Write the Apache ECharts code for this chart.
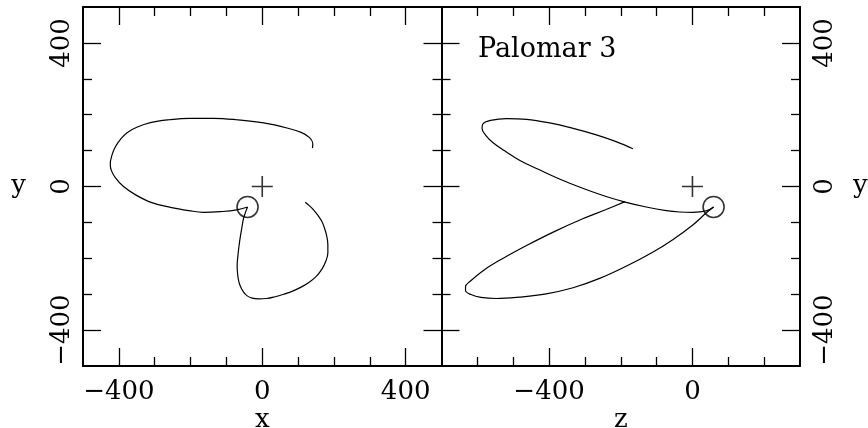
<!DOCTYPE html>
<html>
<head>
<meta charset="utf-8">
<script src="https://cdn.jsdelivr.net/npm/echarts@6/dist/echarts.min.js"></script>
<style>
  html, body { margin: 0; padding: 0; background: #fff; }
  #chart { width: 868px; height: 428px; }
</style>
</head>
<body>
<div id="chart"></div>
<script>
// Orbit of Palomar 3, integrated backward and forward from its present position
const xyBackward = [[-41,-57],[-71,-65],[-117,-70],[-164,-72],[-205,-67],[-256,-58],[-308,-45],[-352,-24],[-387,0],[-410,25],[-421,45],[-424,62],[-419,88],[-410,110],[-395,132],[-377,150],[-350,165],[-312,178],[-260,186],[-201,190],[-136,190],[-71,186],[4,177],[69,163],[110,150],[132,136],[141,120],[140,107]];
const xyForward = [[-41,-57],[-46,-70],[-52,-88],[-57,-115],[-61,-139],[-65,-167],[-68,-194],[-70,-220],[-69,-241],[-66,-262],[-61,-278],[-53,-293],[-43,-304],[-28,-311],[-10,-313],[12,-312],[36,-307],[60,-300],[83,-292],[107,-281],[129,-268],[150,-251],[166,-231],[177,-209],[183,-185],[183,-162],[180,-139],[174,-117],[166,-97],[155,-80],[143,-65],[132,-54],[120,-44]];
const zyBackward = [[59,-57],[38,-68],[1,-72],[-36,-71],[-73,-67],[-129,-57],[-185,-44],[-241,-28],[-306,-5],[-371,21],[-430,48],[-480,72],[-525,100],[-556,122],[-576,142],[-587,162],[-584,175],[-563,184],[-519,189],[-463,187],[-398,177],[-333,162],[-268,144],[-213,125],[-166,105]];
const zyForward = [[59,-57],[38,-74],[1,-107],[-55,-148],[-111,-183],[-185,-222],[-259,-256],[-333,-282],[-408,-299],[-482,-308],[-547,-312],[-590,-309],[-618,-301],[-633,-290],[-633,-279],[-620,-264],[-582,-233],[-530,-201],[-460,-163],[-384,-125],[-306,-90],[-241,-64],[-188,-42]];

// Present position of the cluster and the Galactic centre marker
const clusterXY = [-41, -57];
const clusterZY = [59, -57];
const galacticCentre = [0, 0];

// Axis ranges and tick values
const xRange = [-500, 500];
const zRange = [-700, 300];
const yRange = [-500, 500];
const xMajor = [-400, 0, 400];
const xMinor = [-300, -200, -100, 100, 200, 300];
const zMajor = [-400, 0];
const zMinor = [-600, -500, -300, -200, -100, 100, 200];
const yMajor = [-400, 0, 400];
const yMinor = [-300, -200, -100, 100, 200, 300];

const FONT = 'DejaVu Serif';
const fmt = v => String(v).replace('-', '\u2212');

function axis(gridIndex, position, range, ticks, tickLen, opts) {
  opts = opts || {};
  const vertical = position === 'left' || position === 'right';
  return {
    type: 'value',
    gridIndex: gridIndex,
    position: position,
    min: range[0],
    max: range[1],
    name: opts.name || '',
    nameLocation: 'middle',
    nameGap: opts.nameGap || 0,
    nameRotate: 0,
    nameMoveOverlap: false,
    nameTextStyle: { fontFamily: FONT, fontSize: 26, color: '#000' },
    axisLine: { show: !!opts.line, onZero: false, lineStyle: { color: '#000', width: 2 } },
    axisTick: { show: true, inside: true, length: tickLen, customValues: ticks,
                lineStyle: { color: '#000', width: 1.3 } },
    axisLabel: {
      show: !!opts.labels,
      customValues: ticks,
      formatter: fmt,
      fontFamily: FONT,
      fontSize: 26,
      color: '#000',
      rotate: vertical ? 90 : 0,
      margin: opts.margin || 8
    },
    splitLine: { show: false },
    minorTick: { show: false },
    silent: true
  };
}

const xAxes = [
  // left panel
  axis(0, 'bottom', xRange, xMajor, 18, { line: true, labels: true, name: 'x', nameGap: 41, margin: 13 }),
  axis(0, 'bottom', xRange, xMinor, 9),
  axis(0, 'top', xRange, xMajor, 18, { line: true }),
  axis(0, 'top', xRange, xMinor, 9),
  // right panel
  axis(1, 'bottom', zRange, zMajor, 18, { line: true, labels: true, name: 'z', nameGap: 41, margin: 13 }),
  axis(1, 'bottom', zRange, zMinor, 9),
  axis(1, 'top', zRange, zMajor, 18, { line: true }),
  axis(1, 'top', zRange, zMinor, 9)
];
const yAxes = [
  axis(0, 'left', yRange, yMajor, 18, { line: true, labels: true, name: 'y', nameGap: 57, margin: 8 }),
  axis(0, 'left', yRange, yMinor, 9),
  axis(0, 'right', yRange, yMajor, 18, { line: true }),
  axis(0, 'right', yRange, yMinor, 9),
  axis(1, 'left', yRange, yMajor, 18, { line: true }),
  axis(1, 'left', yRange, yMinor, 9),
  axis(1, 'right', yRange, yMajor, 18, { line: true, labels: true, name: 'y', nameGap: 53, margin: 12 }),
  axis(1, 'right', yRange, yMinor, 9)
];

function orbit(data, panel) {
  return {
    type: 'line', data: data, xAxisIndex: panel * 4, yAxisIndex: panel * 4,
    showSymbol: false, smooth: 0.4, silent: true,
    lineStyle: { color: '#000', width: 1.2 }
  };
}
function marker(pos, panel, symbol) {
  return {
    type: 'scatter', data: [pos], xAxisIndex: panel * 4, yAxisIndex: panel * 4,
    symbol: symbol, symbolSize: 21, silent: true,
    itemStyle: { color: 'rgba(0,0,0,0)', borderColor: '#000', borderWidth: 1.6 }
  };
}
const plusPath = 'path://M0,10L20,10M10,0L10,20';

const chart = echarts.init(document.getElementById('chart'), null, { renderer: 'canvas' });
chart.setOption({
  animation: false,
  backgroundColor: '#fff',
  title: {
    text: 'Palomar 3', left: 478, top: 36, padding: 0,
    textStyle: { fontFamily: FONT, fontSize: 27, fontWeight: 'normal', color: '#000' }
  },
  grid: [
    { left: 83, top: 7, width: 358.5, height: 359, containLabel: false, outerBoundsMode: 'none' },
    { left: 441.5, top: 7, width: 358.5, height: 359, containLabel: false, outerBoundsMode: 'none' }
  ],
  xAxis: xAxes,
  yAxis: yAxes,
  series: [
    orbit(xyBackward, 0),
    orbit(xyForward, 0),
    marker(clusterXY, 0, 'circle'),
    marker(galacticCentre, 0, plusPath),
    orbit(zyBackward, 1),
    orbit(zyForward, 1),
    marker(clusterZY, 1, 'circle'),
    marker(galacticCentre, 1, plusPath)
  ]
});
</script>
</body>
</html>
